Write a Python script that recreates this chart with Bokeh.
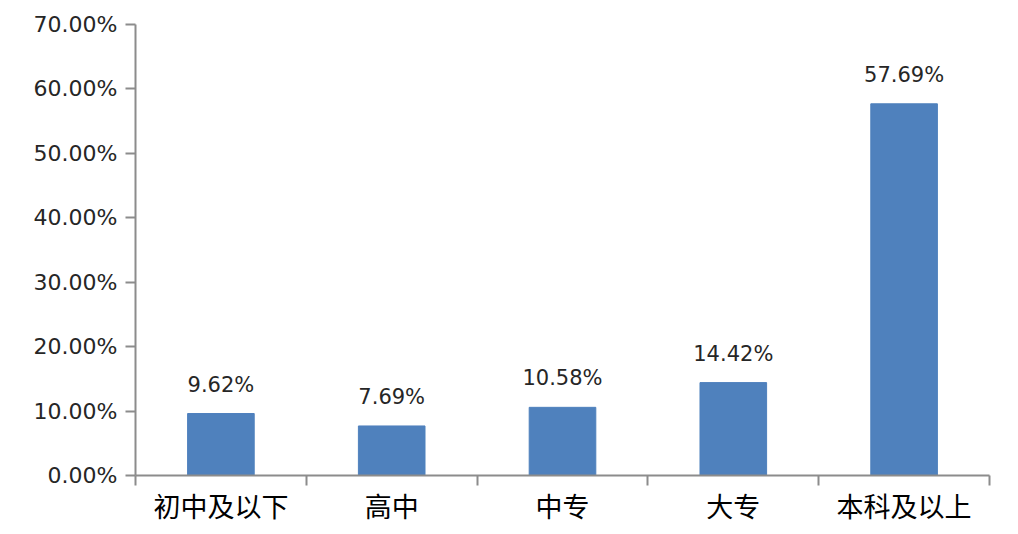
from bokeh.plotting import figure
from bokeh.models import ColumnDataSource, FixedTicker, NumeralTickFormatter, Range1d
from bokeh.core.properties import value
from bokeh.embed import file_html
from bokeh.resources import INLINE

categories = ["初中及以下", "高中", "中专", "大专", "本科及以上"]
shares = [0.0962, 0.0769, 0.1058, 0.1442, 0.5769]
label_texts = ["9.62%", "7.69%", "10.58%", "14.42%", "57.69%"]
y_ticks = [0.0, 0.1, 0.2, 0.3, 0.4, 0.5, 0.6, 0.7]

xs = [i + 0.5 for i in range(len(categories))]
source = ColumnDataSource(dict(x=xs, top=shares, label=label_texts))

p = figure(width=1008, height=527, output_backend="svg", toolbar_location=None,
           x_range=Range1d(0, len(categories)), y_range=Range1d(0, 0.7),
           min_border_left=135, min_border_right=19, min_border_top=24, min_border_bottom=52)
p.outline_line_color = None
p.xgrid.visible = False
p.ygrid.visible = False
p.background_fill_color = "white"
p.border_fill_color = "white"

p.vbar(x="x", top="top", width=0.39, bottom=0, source=source,
       fill_color="#4F81BD", line_color="#4F81BD")

p.text(x="x", y="top", text="label", source=source, text_align="center",
       text_baseline="alphabetic", y_offset=-29, text_font=value("DejaVu Sans"),
       text_font_size="21px", text_color="#262626")

axis_color = "#8C8C8C"
p.yaxis.ticker = FixedTicker(ticks=y_ticks)
p.yaxis.formatter = NumeralTickFormatter(format="0.00%")
p.yaxis.axis_line_color = axis_color
p.yaxis.axis_line_width = 2
p.yaxis.major_tick_line_color = axis_color
p.yaxis.major_tick_line_width = 2
p.yaxis.major_tick_out = 10
p.yaxis.major_tick_in = 0
p.yaxis.minor_tick_line_color = None
p.yaxis.major_label_standoff = 8
p.yaxis.major_label_text_font = "DejaVu Sans"
p.yaxis.major_label_text_font_size = "22px"
p.yaxis.major_label_text_color = "#262626"

p.xaxis.ticker = FixedTicker(ticks=xs, minor_ticks=list(range(len(categories) + 1)))
p.xaxis.major_label_overrides = {x: c for x, c in zip(xs, categories)}
p.xaxis.axis_line_color = axis_color
p.xaxis.axis_line_width = 2
p.xaxis.major_tick_line_color = None
p.xaxis.minor_tick_line_color = axis_color
p.xaxis.minor_tick_line_width = 2
p.xaxis.minor_tick_out = 10
p.xaxis.minor_tick_in = 0
p.xaxis.major_tick_out = 10
p.xaxis.major_label_standoff = 0
p.xaxis.major_label_text_font = "Noto Sans CJK SC"
p.xaxis.major_label_text_font_size = "27px"
p.xaxis.major_label_text_color = "#000000"

open("out.html", "w").write(file_html(p, INLINE))
